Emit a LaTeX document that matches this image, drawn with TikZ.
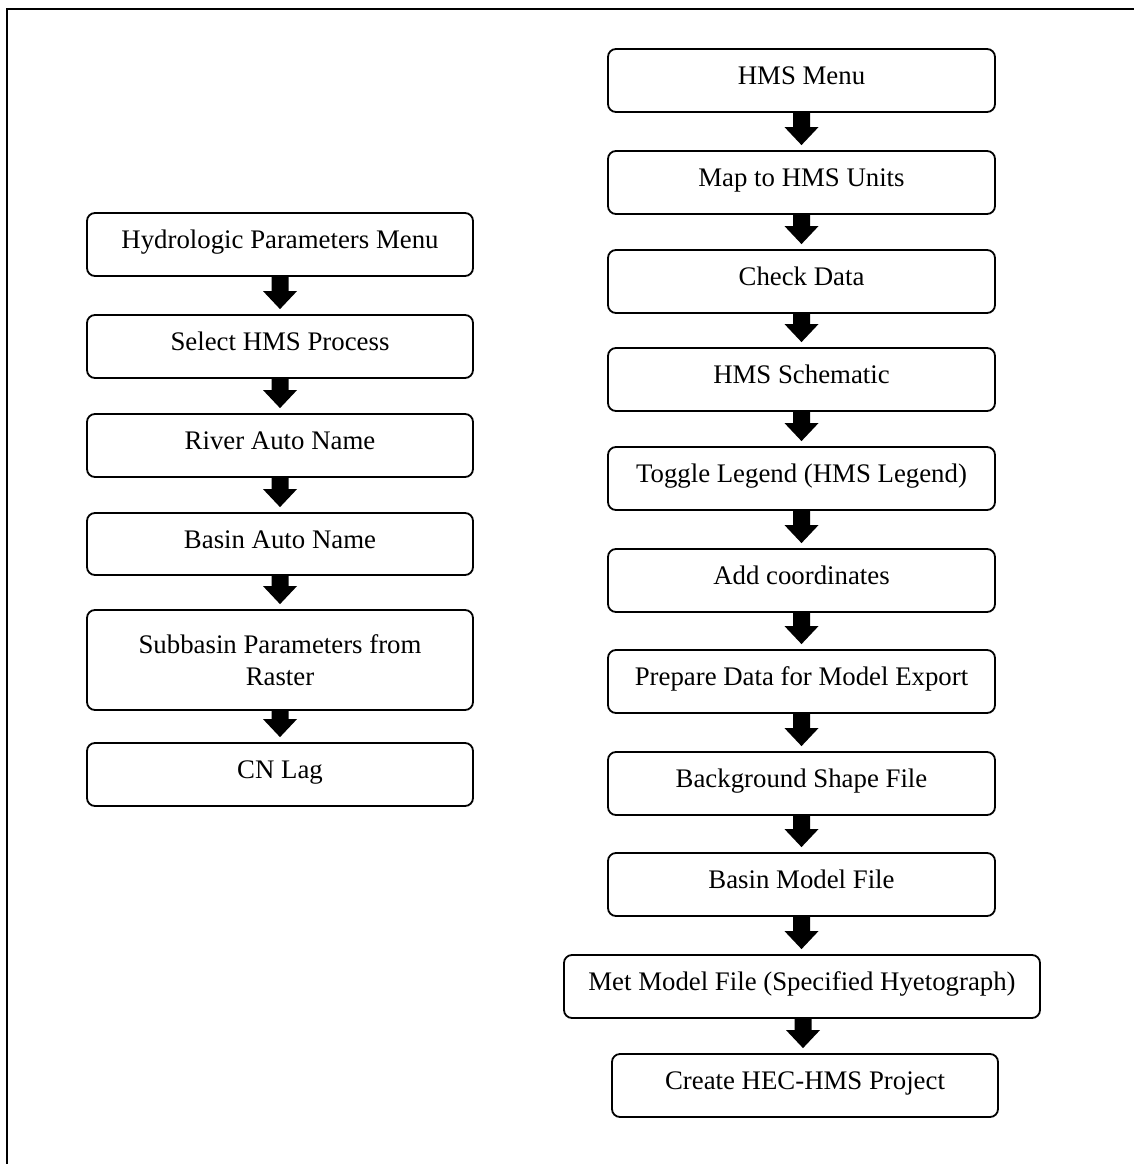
\documentclass[tikz,border=0pt]{standalone}
\usepackage{fontspec}
\setmainfont{Liberation Serif}
\usetikzlibrary{calc}
\tikzset{
  stepbox/.style={draw=black, line width=1.8pt, rounded corners=8pt, rectangle,
    minimum width=386pt, minimum height=63pt, inner sep=0pt, align=center,
    font=\fontsize{26.8}{32}\selectfont},
  oneline/.style={text height=18pt, text depth=10pt},
  blockarrow/.style={to path={
    let \p1=(\tikztostart), \p2=(\tikztotarget) in
    (\x1-8.5pt,\y1) -- (\x1-8.5pt,\y2+18pt) -- (\x1-17pt,\y2+18pt) -- (\x1,\y2)
    -- (\x1+17pt,\y2+18pt) -- (\x1+8.5pt,\y2+18pt) -- (\x1+8.5pt,\y1) -- cycle}},
}
\begin{document}
\begin{tikzpicture}[x=1pt,y=-1pt]
\useasboundingbox (0,0) rectangle (1134,1164);
% frame
\draw[line width=2.5pt] (7,1164) -- (7,9) -- (1134,9);
% left column
\node[stepbox,oneline] (l1) at (280,244.5) {Hydrologic Parameters Menu};
\node[stepbox,oneline] (l2) at (280,346.5) {Select HMS Process};
\node[stepbox,oneline] (l3) at (280,445.5) {River Auto Name};
\node[stepbox,oneline,minimum height=62pt] (l4) at (280,544) {Basin Auto Name};
\node[stepbox,minimum height=100pt] (l5) at (280,660) {Subbasin Parameters from\\Raster};
\node[stepbox,oneline] (l6) at (280,774.5) {CN Lag};
% right column
\node[stepbox,oneline,minimum width=387pt] (r1) at (801.5,80.5) {HMS Menu};
\node[stepbox,oneline,minimum width=387pt] (r2) at (801.5,182.5) {Map to HMS Units};
\node[stepbox,oneline,minimum width=387pt] (r3) at (801.5,281.5) {Check Data};
\node[stepbox,oneline,minimum width=387pt] (r4) at (801.5,379.5) {HMS Schematic};
\node[stepbox,oneline,minimum width=387pt] (r5) at (801.5,478.5) {Toggle Legend (HMS Legend)};
\node[stepbox,oneline,minimum width=387pt] (r6) at (801.5,580.5) {Add coordinates};
\node[stepbox,oneline,minimum width=387pt] (r7) at (801.5,681.5) {Prepare Data for Model Export};
\node[stepbox,oneline,minimum width=387pt] (r8) at (801.5,783.5) {Background Shape File};
\node[stepbox,oneline,minimum width=387pt] (r9) at (801.5,884.5) {Basin Model File};
\node[stepbox,oneline,minimum width=476pt] (r10) at (802,986.5) {Met Model File (Specified Hyetograph)};
\node[stepbox,oneline] (r11) at (805,1085.5) {Create HEC-HMS Project};
% arrows
\foreach \a/\b in {l1/l2,l2/l3,l3/l4,l4/l5,l5/l6,r1/r2,r2/r3,r3/r4,r4/r5,r5/r6,r6/r7,r7/r8,r8/r9,r9/r10}{
  \fill (\a.south) to[blockarrow] ([yshift=5pt]\b.north);
}
\fill ([xshift=1pt]r10.south) to[blockarrow] ([yshift=5pt,xshift=-2pt]r11.north);
\end{tikzpicture}
\end{document}
